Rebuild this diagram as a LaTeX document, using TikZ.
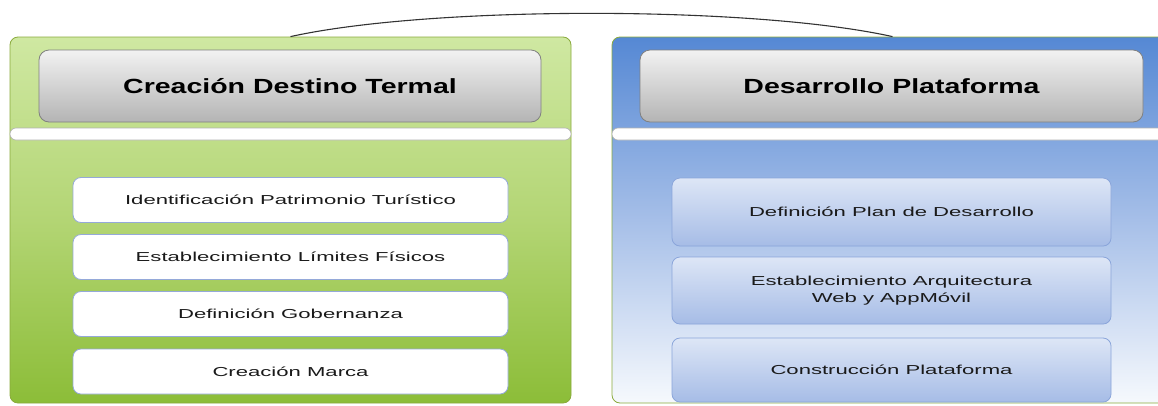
\documentclass[tikz,border=0pt]{standalone}
\usepackage{fontspec}
\setmainfont{Liberation Sans}
\newfontfamily\hdfont{Liberation Sans Bold}[FakeStretch=1.39]
\newfontfamily\itfont{Liberation Sans}[FakeStretch=1.7]
\definecolor{gTop}{HTML}{CFE8A2}
\definecolor{gMid}{HTML}{B3D574}
\definecolor{gBot}{HTML}{8CBD38}
\definecolor{gLine}{HTML}{8AAA3C}
\definecolor{bTop}{HTML}{5588D4}
\definecolor{bMid}{HTML}{A6BFE8}
\definecolor{bBot}{HTML}{F6F9FD}
\definecolor{hTop}{HTML}{F2F2F2}
\definecolor{hBot}{HTML}{B4B4B4}
\definecolor{hLine}{HTML}{808080}
\definecolor{iLine}{HTML}{95A9D9}
\definecolor{riTop}{HTML}{DDE6F6}
\definecolor{riBot}{HTML}{A6BCE6}
\definecolor{riLine}{HTML}{8AA5DA}
\definecolor{txt}{HTML}{1A1A1A}
\tikzset{
  panel/.style={draw=gLine, line width=0.8pt, rounded corners=8pt, minimum width=561pt, minimum height=366pt, inner sep=0pt},
  greenpanel/.style={panel, top color=gTop, bottom color=gBot, middle color=gMid},
  bluepanel/.style={panel, top color=bTop, bottom color=bBot, middle color=bMid},
  header/.style={draw=hLine, line width=0.8pt, rounded corners=10pt, top color=hTop, bottom color=hBot, minimum height=72pt, inner sep=0pt, font=\hdfont\fontsize{20.5}{24}\selectfont, text=black},
  strip/.style={draw=black!30, line width=0.6pt, fill=white, rounded corners=6pt, minimum width=561pt, minimum height=12pt, inner sep=0pt},
  litem/.style={draw=iLine, line width=0.8pt, fill=white, rounded corners=8pt, minimum width=435pt, minimum height=45pt, inner sep=0pt, font=\itfont\fontsize{13}{17}\selectfont, text=txt, align=center},
  ritem/.style={draw=riLine, line width=0.8pt, top color=riTop, bottom color=riBot, rounded corners=8pt, minimum width=439pt, inner sep=0pt, font=\itfont\fontsize{13}{17}\selectfont, text=txt, align=center},
  link/.style={draw=black!80, line width=1.1pt}
}
\begin{document}
\begin{tikzpicture}[x=1pt,y=-1pt]
\useasboundingbox (0,0) rectangle (1158,405);
% panels
\node[greenpanel] (lp) at (290.5,220) {};
\node[bluepanel] (rp) at (892.5,220) {};
% headers
\node[header, minimum width=502pt] (lh) at (290,86) {Creación Destino Termal};
\node[header, minimum width=503pt] (rh) at (891.5,86) {Desarrollo Plataforma};
% strips
\node[strip] (ls) at (290.5,134) {};
\node[strip] (rs) at (892.5,134) {};
% left items
\node[litem] (l1) at (290.5,200) {Identificación Patrimonio Turístico};
\node[litem] (l2) at (290.5,257) {Establecimiento Límites Físicos};
\node[litem] (l3) at (290.5,314) {Definición Gobernanza};
\node[litem] (l4) at (290.5,371.5) {Creación Marca};
% right items
\node[ritem, minimum height=68pt] (r1) at (891.5,212) {Definición Plan de Desarrollo};
\node[ritem, minimum height=67pt] (r2) at (891.5,290.5) {Establecimiento Arquitectura\\Web y AppMóvil};
\node[ritem, minimum height=64pt] (r3) at (891.5,370) {Construcción Plataforma};
% connector
\draw[link] (lp.north) .. controls +(140,-31) and +(-140,-31) .. (rp.north);
\end{tikzpicture}
\end{document}
